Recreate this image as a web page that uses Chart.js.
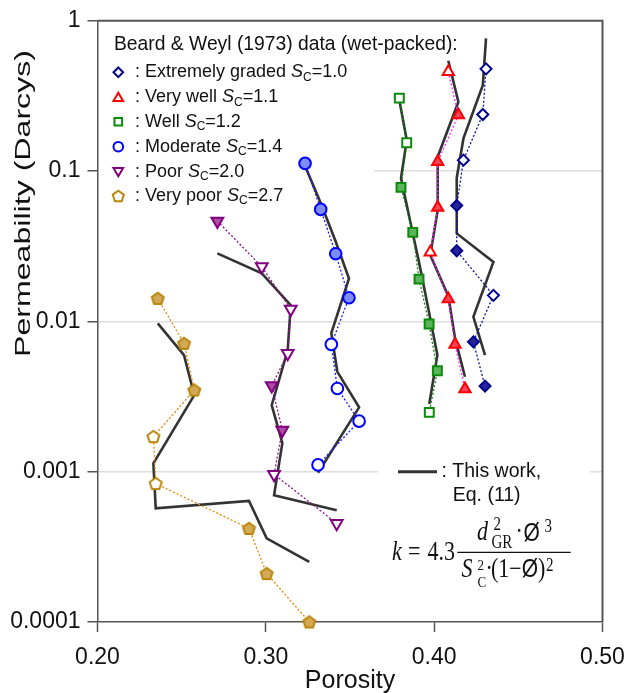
<!DOCTYPE html>
<html><head><meta charset="utf-8">
<script src="https://cdn.jsdelivr.net/npm/chart.js@4.4.0/dist/chart.umd.min.js"></script>
<style>html,body{margin:0;padding:0;background:#fff}#wrap{width:627px;height:693px;position:relative}</style>
</head><body><div id="wrap"><canvas id="c"></canvas></div>
<script>
// ---- tick labels ----
const xTickValues = [0.2, 0.3, 0.4, 0.5];
const xTickLabels = ["0.20", "0.30", "0.40", "0.50"];
const yTickValues = [0.0001, 0.001, 0.01, 0.1, 1];
const yTickLabels = ["0.0001", "0.001", "0.01", "0.1", "1"];

// ---- categories ----
const groupNames = ["Extremely graded", "Very well", "Well", "Moderate", "Poor", "Very poor"];
const groupSc = ["1.0", "1.1", "1.2", "1.4", "2.0", "2.7"];

// ---- Extremely graded ----
const egPor   = [0.4308, 0.4289, 0.4174, 0.4134, 0.4134, 0.4352, 0.4233, 0.4302];
const egK     = [0.479, 0.238, 0.1183, 0.0590, 0.0295, 0.0149, 0.00731, 0.00371];
const egModel = [0.763, 0.373, 0.165, 0.090, 0.0385, 0.0249, 0.01073, 0.00597];
const egFill  = [0, 0, 0, 1, 1, 0, 1, 1];
// ---- Very well ----
const vwPor   = [0.4084, 0.4144, 0.4021, 0.4021, 0.3977, 0.4084, 0.4124, 0.4183];
const vwK     = [0.4577, 0.2358, 0.1153, 0.0572, 0.0288, 0.01407, 0.00703, 0.00355];
const vwModel = [0.542, 0.289, 0.1245, 0.055, 0.0276, 0.01473, 0.00774, 0.00428];
const vwFill  = [0, 1, 1, 1, 0, 1, 1, 1];
// ---- Well ----
const wPor    = [0.3793, 0.3837, 0.3803, 0.3873, 0.3910, 0.3970, 0.4019, 0.3971];
const wK      = [0.306, 0.1543, 0.0779, 0.0391, 0.01912, 0.0096, 0.00469, 0.00248];
const wModel  = [0.2968, 0.1608, 0.0898, 0.0385, 0.0248, 0.0114, 0.00597, 0.00282];
const wFill   = [0, 0, 1, 1, 1, 1, 1, 0];
// ---- Moderate ----
const mPor    = [0.3233, 0.3326, 0.3415, 0.3494, 0.3389, 0.3425, 0.3554, 0.3310];
const mK      = [0.1125, 0.0556, 0.0282, 0.01436, 0.00703, 0.00358, 0.00217, 0.00111];
const mModel  = [0.108, 0.0614, 0.0340, 0.0193, 0.00836, 0.00462, 0.00268, 0.000984];
const mFill   = [1, 1, 1, 1, 0, 0, 0, 0];
// ---- Poor ----
const pPor    = [0.2712, 0.2976, 0.3148, 0.3130, 0.3035, 0.3098, 0.3049, 0.3421];
const pK      = [0.0465, 0.0231, 0.01207, 0.00612, 0.00373, 0.00189, 0.00096, 0.000453];
const pModel  = [0.02834, 0.02087, 0.01283, 0.00644, 0.00277, 0.00155, 0.000698, 0.000554];
const pFill   = [1, 0, 0, 0, 1, 1, 0, 0];
// ---- Very poor ----
const vpPor   = [0.2358, 0.2514, 0.2575, 0.2332, 0.2346, 0.2900, 0.3005, 0.3258];
const vpK     = [0.01422, 0.00714, 0.00349, 0.00171, 0.000834, 0.000419, 0.000210, 0.0001];
const vpModel = [0.0097, 0.00597, 0.00323, 0.001136, 0.00057, 0.00064, 0.00036, 0.000251];
const vpFill  = [1, 1, 1, 0, 0, 1, 1, 1];

const SANS = '"Liberation Sans", Arial, Helvetica, sans-serif';
const SERIF = '"Liberation Serif", "Times New Roman", serif';

function pentPath(g, cx, cy, r) {
  g.beginPath();
  for (let i = 0; i < 5; i++) {
    const a = -Math.PI / 2 + i * 2 * Math.PI / 5;
    const px = cx + r * Math.cos(a), py = cy + r * Math.sin(a);
    i ? g.lineTo(px, py) : g.moveTo(px, py);
  }
  g.closePath();
}
function pentImg(fill) {
  const c = document.createElement('canvas'); c.width = 17; c.height = 17;
  const g = c.getContext('2d');
  pentPath(g, 8.5, 9, 6.3);
  g.fillStyle = fill; g.fill(); g.lineWidth = 2; g.strokeStyle = '#b8860b'; g.stroke();
  return c;
}
const pentFilled = pentImg('#d3a857');
const pentHollow = pentImg('#ffffff');

const styles = [
  {stroke: '#00008b', fill: '#23239a', line: '#1010a0', shape: 'rectRot', r: 5.5, rot: 0},
  {stroke: '#ff0000', fill: '#f2465a', line: '#ff22ff', shape: 'triangle', r: 6.5, rot: 0},
  {stroke: '#0b8a0b', fill: '#5cb35c', line: '#0b8a0b', shape: 'rect', r: 6.3, rot: 0},
  {stroke: '#0000ff', fill: '#7d8cf8', line: '#1a1aff', shape: 'circle', r: 5.8, rot: 0},
  {stroke: '#800080', fill: '#ae4ca6', line: '#8a108a', shape: 'triangle', r: 6.8, rot: 180},
  {stroke: '#b8860b', fill: '#d3a857', line: '#e68a10', shape: 'pent', r: 6.3, rot: 0}
];
const groups = [
  [egPor, egK, egModel, egFill], [vwPor, vwK, vwModel, vwFill], [wPor, wK, wModel, wFill],
  [mPor, mK, mModel, mFill], [pPor, pK, pModel, pFill], [vpPor, vpK, vpModel, vpFill]
];

const datasets = [];
groups.forEach((g, gi) => {
  const [por, k, model, fill] = g; const st = styles[gi];
  datasets.push({
    label: groupNames[gi],
    data: por.map((x, i) => ({x: x, y: k[i]})),
    showLine: true, borderColor: st.line, borderWidth: 1.3, borderDash: [2, 2],
    pointStyle: st.shape === 'pent' ? fill.map(f => f ? pentFilled : pentHollow) : st.shape,
    rotation: st.rot, pointRadius: st.r, pointBorderWidth: 2,
    pointBorderColor: st.stroke,
    pointBackgroundColor: fill.map(f => f ? st.fill : '#ffffff'),
    order: 0, clip: false
  });
  datasets.push({
    label: groupNames[gi] + ' model',
    data: por.map((x, i) => ({x: x, y: model[i]})),
    showLine: true, borderColor: '#333333', borderWidth: 2.6, pointRadius: 0,
    order: 1, clip: false
  });
});

function drawMarker(ctx, shape, x, y, r, stroke, rot) {
  ctx.save(); ctx.lineWidth = 2; ctx.strokeStyle = stroke; ctx.fillStyle = '#fff';
  ctx.beginPath();
  if (shape === 'rectRot') {
    ctx.moveTo(x - r, y); ctx.lineTo(x, y - r); ctx.lineTo(x + r, y); ctx.lineTo(x, y + r); ctx.closePath();
  } else if (shape === 'rect') {
    const s = r * Math.SQRT1_2; ctx.rect(x - s, y - s, 2 * s, 2 * s);
  } else if (shape === 'circle') {
    ctx.arc(x, y, r, 0, Math.PI * 2);
  } else if (shape === 'triangle') {
    let a = rot * Math.PI / 180;
    for (let i = 0; i < 3; i++) {
      const px = x + Math.sin(a) * r, py = y - Math.cos(a) * r;
      i ? ctx.lineTo(px, py) : ctx.moveTo(px, py); a += 2 * Math.PI / 3;
    }
    ctx.closePath();
  } else if (shape === 'pent') {
    pentPath(ctx, x, y + 0.5, r);
  }
  ctx.fill(); ctx.stroke(); ctx.restore();
}

function piece(ctx, text, font, x, y, sy) {
  ctx.save(); ctx.translate(x, y); ctx.scale(1, sy); ctx.font = font; ctx.textBaseline = 'alphabetic';
  ctx.textAlign = 'left'; ctx.fillText(text, 0, 0); ctx.restore();
}

const deco = {
  id: 'deco',
  beforeDatasetsDraw(chart) {
    const ctx = chart.ctx; const a = chart.chartArea;
    ctx.save(); ctx.fillStyle = '#ffffff';
    ctx.fillRect(a.left + 1.5, a.top + 1.5, 373 - a.left, 215 - a.top);
    ctx.fillRect(378, 455, 212, 150);
    ctx.restore();
  },
  afterDatasetsDraw(chart) {
    const ctx = chart.ctx; const a = chart.chartArea;
    ctx.save();
    // frame top + right
    ctx.strokeStyle = '#555'; ctx.lineWidth = 2;
    ctx.beginPath(); ctx.moveTo(a.left, a.top); ctx.lineTo(a.right, a.top); ctx.lineTo(a.right, a.bottom); ctx.stroke();
    // legend
    ctx.fillStyle = '#111'; ctx.textBaseline = 'middle'; ctx.textAlign = 'left';
    ctx.font = '19.3px ' + SANS;
    ctx.fillText('Beard & Weyl (1973) data (wet-packed):', 114, 45);
    const rows = [72.3, 97.3, 121.7, 146.7, 171.7, 196];
    rows.forEach((y, i) => {
      const st = styles[i];
      const mr = st.shape === 'triangle' ? 5.6 : (st.shape === 'rect' ? 5.4 : (st.shape === 'pent' ? 5.8 : 4.8));
      drawMarker(ctx, st.shape, 118.3, y + (st.shape === 'triangle' ? (st.rot ? -1 : 1) : 0), mr, st.stroke, st.rot);
      let x = 135;
      ctx.fillStyle = '#111';
      ctx.font = '18px ' + SANS; let t = ': ' + groupNames[i] + ' ';
      ctx.fillText(t, x, y); x += ctx.measureText(t).width;
      ctx.font = 'italic 18px ' + SANS; ctx.fillText('S', x, y); x += ctx.measureText('S').width;
      ctx.font = '12px ' + SANS; ctx.fillText('C', x, y + 5); x += ctx.measureText('C').width;
      ctx.font = '18px ' + SANS; ctx.fillText('=' + groupSc[i], x, y);
    });
    // model legend
    ctx.strokeStyle = '#333'; ctx.lineWidth = 3;
    ctx.beginPath(); ctx.moveTo(398, 471.7); ctx.lineTo(437, 471.7); ctx.stroke();
    ctx.fillStyle = '#111'; ctx.font = '19.5px ' + SANS;
    ctx.fillText(': This work,', 441.5, 472);
    ctx.fillText('Eq. (11)', 452.7, 495.5);
    // equation
    const sy = 1.2;
    const fI = 'italic 22px ' + SERIF, fR = '22px ' + SERIF, fS = '15px ' + SERIF, fS2 = '13px ' + SERIF, fO = '21px ' + SANS;
    piece(ctx, 'k', fI, 392, 560, sy);
    piece(ctx, '=', fR, 408, 560, sy);
    piece(ctx, '4.3', fR, 427.5, 560, sy);
    ctx.strokeStyle = '#111'; ctx.lineWidth = 1.2;
    ctx.beginPath(); ctx.moveTo(457.3, 552.3); ctx.lineTo(570.7, 552.3); ctx.stroke();
    piece(ctx, 'd', fI, 477, 540, sy);
    piece(ctx, '2', fS, 493.5, 530, sy);
    piece(ctx, 'GR', fS, 491.5, 548, sy);
    piece(ctx, '\u00B7', fR, 515.5, 540, sy);
    piece(ctx, '\u00D8', fO, 523.5, 540.7, sy);
    piece(ctx, '3', fS, 544.5, 532, sy);
    piece(ctx, 'S', fI, 461.5, 576.7, sy);
    piece(ctx, '2', fS2, 477.5, 570, sy);
    piece(ctx, 'C', fS2, 477.5, 587, sy);
    piece(ctx, '\u00B7', fR, 485.5, 576.7, sy);
    piece(ctx, '(1\u2212', fR, 491, 576.7, sy);
    ctx.font = fR; const w1 = ctx.measureText('(1\u2212').width;
    piece(ctx, '\u00D8', fO, 491 + w1, 576.7, sy);
    ctx.font = fO; const w2 = ctx.measureText('\u00D8').width;
    piece(ctx, ')', fR, 491 + w1 + w2, 576.7, sy);
    ctx.font = fR; const w3 = ctx.measureText(')').width;
    piece(ctx, '2', fS, 491 + w1 + w2 + w3 + 0.5, 571, sy);
    // axis titles
    ctx.fillStyle = '#111'; ctx.textAlign = 'center'; ctx.textBaseline = 'middle';
    ctx.font = '25px ' + SANS; ctx.fillText('Porosity', 350, 681);
    ctx.save(); ctx.translate(23.5, 203.5); ctx.rotate(-Math.PI / 2);
    ctx.font = '22.5px ' + SANS; const tw = ctx.measureText('Permeability (Darcys)').width;
    ctx.scale(307 / tw, 1); ctx.fillText('Permeability (Darcys)', 0, 0);
    ctx.restore();
    ctx.restore();
  }
};

new Chart(document.getElementById('c'), {
  type: 'scatter',
  data: {datasets: datasets},
  plugins: [deco],
  options: {
    responsive: true, maintainAspectRatio: false, animation: false,
    layout: {padding: {left: 0, right: 24.5, top: 20.7, bottom: 0}},
    plugins: {legend: {display: false}, tooltip: {enabled: false}},
    scales: {
      x: {
        type: 'linear', min: 0.2, max: 0.5,
        afterBuildTicks: s => { s.ticks = xTickValues.map(v => ({value: v})); },
        ticks: {callback: (v, i) => xTickLabels[i], font: {family: SANS, size: 23}, color: '#111', padding: 12, maxRotation: 0, autoSkip: false},
        grid: {drawOnChartArea: false, tickLength: 10, tickColor: '#555', tickWidth: 1.5},
        border: {color: '#555', width: 1.5},
        afterFit: s => { s.height = 71; s.paddingLeft = 0; s.paddingRight = 0; }
      },
      y: {
        type: 'logarithmic', min: 0.0001, max: 1,
        afterBuildTicks: s => { s.ticks = yTickValues.map(v => ({value: v})); },
        ticks: {callback: (v, i) => yTickLabels[i], font: {family: SANS, size: 23}, color: '#111', padding: 7, autoSkip: false},
        grid: {
          color: c => (c.index === 0 || c.index === yTickValues.length - 1) ? 'rgba(0,0,0,0)' : '#dedede',
          lineWidth: 1.5, tickLength: 10, tickColor: '#555', tickWidth: 1.5
        },
        border: {color: '#555', width: 1.5},
        afterFit: s => { s.width = 97.5; }
      }
    }
  }
});
</script>
</body></html>
